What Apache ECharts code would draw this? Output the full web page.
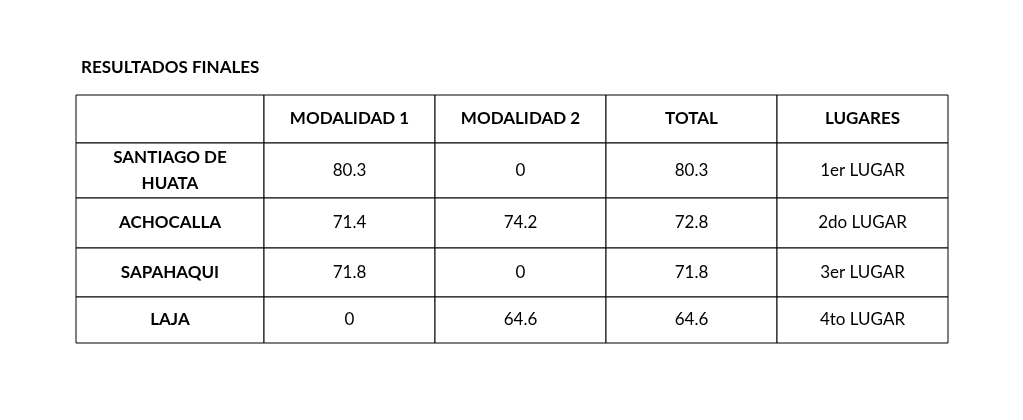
<!DOCTYPE html>
<html>
<head>
<meta charset="utf-8">
<script src="https://cdn.jsdelivr.net/npm/echarts@6/dist/echarts.min.js"></script>
<style>
  html, body { margin: 0; padding: 0; background: #fff; }
  #main { width: 1023px; height: 420px; }
</style>
</head>
<body>
<div id="main"></div>
<script>
// table content
const headers = ['', 'MODALIDAD 1', 'MODALIDAD 2', 'TOTAL', 'LUGARES'];
const places = ['SANTIAGO DE\nHUATA', 'ACHOCALLA', 'SAPAHAQUI', 'LAJA'];
const mod1 = ['80.3', '71.4', '71.8', '0'];
const mod2 = ['0', '74.2', '0', '64.6'];
const total = ['80.3', '72.8', '71.8', '64.6'];
const ranks = ['1er LUGAR', '2do LUGAR', '3er LUGAR', '4to LUGAR'];

// layout: column and row edges in table units
const colEdges = [0, 188, 359, 530, 701, 872];
const rowEdges = [0, 48, 103, 153, 202, 248];

var cells = [];
headers.forEach((h, c) => cells.push([c, 0, h, 1]));
places.forEach((p, r) => {
  cells.push([0, r + 1, p, 1]);
  cells.push([1, r + 1, mod1[r], 0]);
  cells.push([2, r + 1, mod2[r], 0]);
  cells.push([3, r + 1, total[r], 0]);
  cells.push([4, r + 1, ranks[r], 0]);
});

function renderCell(params, api) {
  var c = api.value(0), r = api.value(1);
  var p0 = api.coord([colEdges[c], rowEdges[r]]);
  var p1 = api.coord([colEdges[c + 1], rowEdges[r + 1]]);
  var bold = api.value(3) === 1;
  return {
    type: 'group',
    children: [{
      type: 'rect',
      shape: { x: p0[0], y: p0[1], width: p1[0] - p0[0], height: p1[1] - p0[1] },
      style: { fill: '#fff', stroke: '#000', lineWidth: 1 }
    }, {
      type: 'text',
      style: {
        x: (p0[0] + p1[0]) / 2, y: (p0[1] + p1[1]) / 2,
        text: cells[params.dataIndex][2],
        align: 'center', verticalAlign: 'middle',
        font: (bold ? 'bold ' : '') + '17px Lato, "Open Sans", sans-serif',
        lineHeight: 26,
        fill: '#000'
      }
    }]
  };
}

var myChart = echarts.init(document.getElementById('main'));
myChart.setOption({
  animation: false,
  title: {
    text: 'RESULTADOS FINALES', left: 76, top: 54,
    textStyle: { fontFamily: 'Lato, "Open Sans", sans-serif', fontSize: 17, fontWeight: 'bold', color: '#000' }
  },
  grid: { left: 76, top: 95, width: 872, height: 248 },
  xAxis: { type: 'value', min: 0, max: 872, show: false },
  yAxis: { type: 'value', min: 0, max: 248, inverse: true, show: false },
  series: [{
    type: 'custom',
    renderItem: renderCell,
    data: cells.map(d => [d[0], d[1], 0, d[3]]),
    encode: { x: 0, y: 1 },
    silent: true
  }]
});
</script>
</body>
</html>
